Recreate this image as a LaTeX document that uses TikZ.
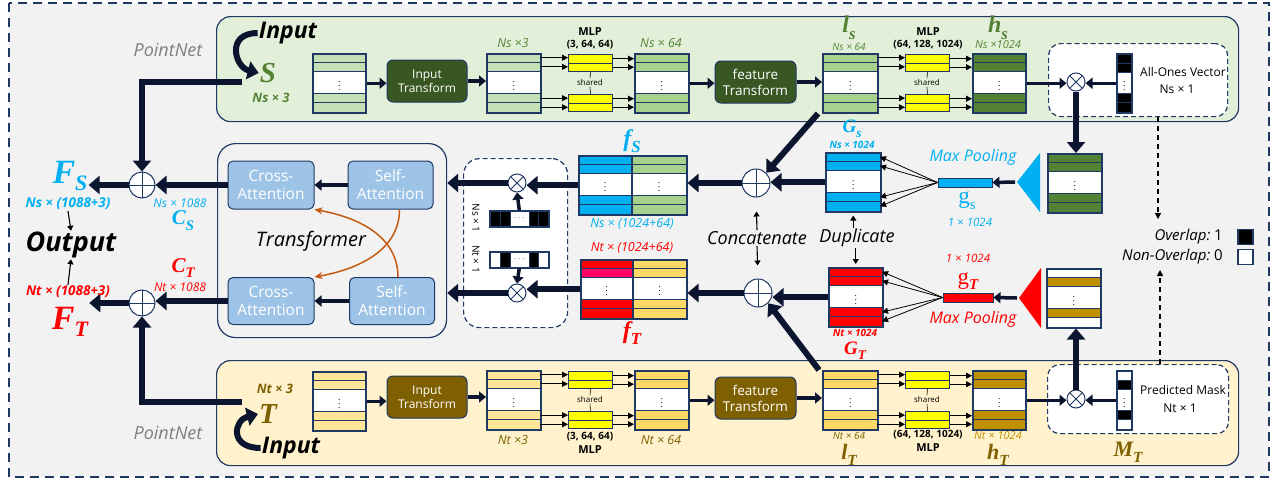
\documentclass[tikz,border=0pt]{standalone}
\usepackage{fontspec}
\usepackage{graphicx}
\setmainfont{Open Sans}
\newfontfamily\mserif{Liberation Serif}
\usetikzlibrary{arrows.meta,calc}
\definecolor{navy}{HTML}{1F3864}
\definecolor{arrc}{HTML}{0B1530}
\definecolor{bgc}{HTML}{F2F2F2}
\definecolor{pgreen}{HTML}{E2F0D9}
\definecolor{pyellow}{HTML}{FFF2CC}
\definecolor{lgr}{HTML}{C5E0B4}
\definecolor{mgr}{HTML}{A9D18E}
\definecolor{dgr}{HTML}{548235}
\definecolor{boxg}{HTML}{385723}
\definecolor{ly}{HTML}{FFE699}
\definecolor{my}{HTML}{FFD966}
\definecolor{gold}{HTML}{BF9000}
\definecolor{brn}{HTML}{7F6000}
\definecolor{cyn}{HTML}{00B0F0}
\definecolor{rd}{HTML}{FF0000}
\definecolor{pnk}{HTML}{FF0066}
\definecolor{attn}{HTML}{9DC3E6}
\definecolor{orng}{HTML}{C55A11}
\definecolor{ylw}{HTML}{FFFF00}
\definecolor{gtxt}{HTML}{7F7F7F}

\newcommand{\fsz}[1]{\fontsize{#1}{#1}\selectfont}
\newcommand{\mlab}[2]{{\mserif\bfseries\itshape #1\raisebox{-0.28em}{\scalebox{0.7}{#2}}}}

\newcommand{\fstack}[8]{%
  \fill[white] (#2,#3) rectangle ({#2+#4},{#3+59});
  \draw[rowst,fill=#5] (#2,#3) rectangle ({#2+#4},{#3+9.4});
  \draw[rowst,fill=#6] (#2,{#3+9.4}) rectangle ({#2+#4},{#3+18.3});
  \draw[rowst,fill=#7] (#2,{#3+40.7}) rectangle ({#2+#4},{#3+49.6});
  \draw[rowst,fill=#8] (#2,{#3+49.6}) rectangle ({#2+#4},{#3+59});
  \node[stk,minimum width=#4,minimum height=59,anchor=north west] (#1) at (#2,#3) {};
  \node[dotn] (#1d) at (#1.center) {$\vdots$};
  \coordinate (#1e1) at ({#2+#4},{#3+4.7});
  \coordinate (#1e2) at ({#2+#4},{#3+13.85});
  \coordinate (#1e3) at ({#2+#4},{#3+45.15});
  \coordinate (#1e4) at ({#2+#4},{#3+54.3});
  \coordinate (#1w1) at (#2,{#3+4.7});
  \coordinate (#1w2) at (#2,{#3+13.85});
  \coordinate (#1w3) at (#2,{#3+45.15});
  \coordinate (#1w4) at (#2,{#3+54.3});
}
\newcommand{\dstack}[9]{%
  \fill[white] (#2,#3) rectangle ({#2+#4},{#3+59});
  \draw[rowst,fill=#5] (#2,#3) rectangle ({#2+#4/2},{#3+9.4});
  \draw[rowst,fill=#6] (#2,{#3+9.4}) rectangle ({#2+#4/2},{#3+18.3});
  \draw[rowst,fill=#7] (#2,{#3+40.7}) rectangle ({#2+#4/2},{#3+49.6});
  \draw[rowst,fill=#8] (#2,{#3+49.6}) rectangle ({#2+#4/2},{#3+59});
  \draw[rowst,fill=#9] ({#2+#4/2},#3) rectangle ({#2+#4},{#3+9.4});
  \draw[rowst,fill=#9] ({#2+#4/2},{#3+9.4}) rectangle ({#2+#4},{#3+18.3});
  \draw[rowst,fill=#9] ({#2+#4/2},{#3+40.7}) rectangle ({#2+#4},{#3+49.6});
  \draw[rowst,fill=#9] ({#2+#4/2},{#3+49.6}) rectangle ({#2+#4},{#3+59});
  \draw[stk] ({#2+#4/2},#3) -- ({#2+#4/2},{#3+59});
  \node[stk,minimum width=#4,minimum height=59,anchor=north west] (#1) at (#2,#3) {};
  \node[dotn] (#1dl) at ({#2+#4/4},{#3+29.5}) {$\vdots$};
  \node[dotn] (#1dr) at ({#2+3*#4/4},{#3+29.5}) {$\vdots$};
}
\newcommand{\vvec}[7]{%
  \fill[white] (#2,#3) rectangle ({#2+15},{#3+59});
  \draw[rowst,fill=#4] (#2,#3) rectangle ({#2+15},{#3+10});
  \draw[rowst,fill=#5] (#2,{#3+10}) rectangle ({#2+15},{#3+19});
  \draw[rowst,fill=#6] (#2,{#3+40}) rectangle ({#2+15},{#3+49});
  \draw[rowst,fill=#7] (#2,{#3+49}) rectangle ({#2+15},{#3+59});
  \node[stk,minimum width=15,minimum height=59,anchor=north west] (#1) at (#2,#3) {};
  \node[dotn] (#1d) at (#1.center) {$\vdots$};
}
\newcommand{\hvec}[7]{%
  \fill[white] (#2,#3) rectangle ({#2+59},{#3+16});
  \draw[rowst,fill=#4] (#2,#3) rectangle ({#2+11},{#3+16});
  \draw[rowst,fill=#5] ({#2+11},#3) rectangle ({#2+21},{#3+16});
  \draw[rowst,fill=#6] ({#2+40},#3) rectangle ({#2+49},{#3+16});
  \draw[rowst,fill=#7] ({#2+49},#3) rectangle ({#2+59},{#3+16});
  \node[stk,minimum width=59,minimum height=16,anchor=north west] (#1) at (#2,#3) {};
  \node[dotn] (#1d) at (#1.center) {$\cdots$};
}
\newcommand{\mlpset}[4]{%
  \node[mbar,anchor=north west] (#1b1) at (#2,#3) {};
  \node[mbar,anchor=north west] (#1b2) at (#2,{#3+8.5}) {};
  \node[mbar,anchor=north west] (#1b3) at (#2,#4) {};
  \node[mbar,anchor=north west] (#1b4) at (#2,{#4+8.5}) {};
  \node[font=\fsz{8}, inner sep=1pt] (#1sh) at ({#2+22},{(#3+17+#4)/2}) {shared};
  \draw[line width=0.6pt] (#1b2.south) -- (#1sh.north) (#1sh.south) -- (#1b3.north);
}
\newcommand{\mlpwire}[3]{%
  \foreach \i in {1,2,3,4}{%
    \draw[thinarr] (#1e\i) -- (#1e\i -| #2b\i.west);
    \draw[thinarr] (#2b\i.east) -- (#2b\i.east -| #3w\i);
  }%
}

\begin{document}
\begin{tikzpicture}[x=1pt,y=-1pt,
  stk/.style={draw=navy, line width=1.5pt, inner sep=0pt},
  rowst/.style={draw=navy, line width=0.9pt},
  dotn/.style={font=\fsz{9}, inner sep=0pt},
  mbar/.style={draw=navy, fill=ylw, line width=0.9pt, minimum width=44, minimum height=8.5, inner sep=0pt},
  panel/.style={draw=navy, line width=1.2pt, rounded corners=14pt, inner sep=0pt},
  dbox/.style={draw=navy, fill=white, line width=1.2pt, dash pattern=on 5pt off 3pt, rounded corners=12pt, inner sep=0pt},
  tbox/.style={rounded corners=6pt, draw=navy, line width=1pt, text=white, align=center, font=\fsz{12}, minimum width=80, minimum height=42, inner sep=1pt},
  abox/.style={rounded corners=5pt, draw=navy, line width=1pt, fill=attn, text=white, align=center, font=\fontsize{15.5}{18}\selectfont, minimum width=86, minimum height=48, inner sep=1pt},
  fat/.style={draw=arrc, line width=6pt, -{Triangle[length=11pt,width=18pt]}},
  midarr/.style={draw=arrc, line width=3.5pt, -{Triangle[length=7pt,width=11pt]}},
  thinarr/.style={draw=black, line width=0.8pt, -{Triangle[length=6pt,width=6pt]}},
  smallarr/.style={draw=black, line width=1.1pt, -{Triangle[length=5pt,width=6pt]}},
  dasharr/.style={draw=black, line width=1.2pt, dash pattern=on 5pt off 4pt, -{Triangle[length=6pt,width=6pt]}},
  oarr/.style={draw=orng, line width=1.5pt, -{Stealth[length=8pt,width=7pt]}},
  opl/.style={circle, draw=navy, line width=1pt, fill=white, minimum size=26, inner sep=0pt,
    path picture={\draw[navy, line width=1pt] (path picture bounding box.north) -- (path picture bounding box.south) (path picture bounding box.west) -- (path picture bounding box.east);}},
  otm/.style={circle, draw=navy, line width=1pt, fill=white, minimum size=18, inner sep=0pt,
    path picture={\draw[navy, line width=1pt] (path picture bounding box.north west) -- (path picture bounding box.south east) (path picture bounding box.south west) -- (path picture bounding box.north east);}},
  lb/.style={inner sep=1pt}
]
\useasboundingbox (0,0) rectangle (1276,485);
\fill[white] (0,0) rectangle (1276,485);
\fill[bgc] (9,3) rectangle (1269,477);
\draw[navy, line width=2pt, dash pattern=on 9pt off 6pt] (9,3) rectangle (1269,477);

% panels
\node[panel, fill=pgreen, minimum width=1022, minimum height=105, anchor=north west] (pS) at (216,16) {};
\node[panel, fill=pyellow, minimum width=1022, minimum height=105, anchor=north west] (pT) at (216,360) {};
\node[panel, fill=bgc, rounded corners=18pt, minimum width=229, minimum height=194, anchor=north west] (tfm) at (217,143) {};
\node[dbox, minimum width=179, minimum height=73, anchor=north west] (dbS) at (1048,43) {};
\node[dbox, minimum width=181, minimum height=69, anchor=north west] (dbT) at (1047,364) {};
\node[dbox, rounded corners=16pt, minimum width=104, minimum height=169, anchor=north west] (dbM) at (463,158) {};

% ---------- top PointNet (source)
\node[lb, font=\fsz{18}\itshape, text=gtxt] (pnS) at (168,50) {PointNet};
\node[lb, font=\fsz{23}\bfseries\itshape] (inS) at (288,33) {Input};
\node[lb, text=dgr] (S) at (268,73) {\mserif\bfseries\itshape\fsz{29}S};
\node[lb, font=\fsz{13}\bfseries\itshape, text=dgr] (nsS) at (271,98) {Ns × 3};
\draw[fat] (inS.west) .. controls +(-32,0) and +(-24,-6) .. (S.west);

\fstack{sA}{312}{53}{53}{lgr}{lgr}{lgr}{lgr}
\node[tbox, fill=boxg] (itS) at (427,81) {Input\\[1pt]Transform};
\fstack{sB}{486}{53}{54}{lgr}{lgr}{lgr}{lgr}
\mlpset{mA}{568}{54}{94}
\fstack{sC}{634}{53}{54}{mgr}{mgr}{mgr}{mgr}
\node[tbox, fill=boxg, minimum width=81, font=\fontsize{13.5}{16}\selectfont] (ftS) at (755.5,82) {feature\\Transform};
\fstack{sD}{822}{53}{55}{mgr}{mgr}{mgr}{mgr}
\mlpset{mB}{905}{54}{94}
\fstack{sE}{972}{53}{53}{dgr}{dgr}{dgr}{dgr}
\node[otm] (otA) at (1076,82) {};
\vvec{vA}{1116}{53}{black}{black}{black}{black}
\node[lb, font=\fsz{12}] (aov) at (1183,72) {All-Ones Vector};
\node[lb, font=\fsz{12}] (aon) at (1177,89) {Ns × 1};

\node[lb, font=\fsz{12.5}\itshape, text=dgr] (lbB) at (513,43) {Ns ×3};
\node[lb, font=\fsz{11}\bfseries] (mlpA) at (590,32) {MLP};
\node[lb, font=\fsz{10}\bfseries] (mlpAp) at (590,45) {(3, 64, 64)};
\node[lb, font=\fsz{12.5}\itshape, text=dgr] (lbC) at (661,43) {Ns × 64};
\node[lb, text=dgr, font=\fsz{24}] (lsym) at (849,28) {\mlab{l}{s}};
\node[lb, font=\fsz{10}\itshape, text=dgr] (lbD) at (849,47) {Ns × 64};
\node[lb, font=\fsz{11}\bfseries] (mlpB) at (928,32) {MLP};
\node[lb, font=\fsz{10}\bfseries] (mlpBp) at (928,45) {(64, 128, 1024)};
\node[lb, text=dgr, font=\fsz{24}] (hsym) at (998,28) {\mlab{h}{s}};
\node[lb, font=\fsz{11}\itshape, text=dgr] (lbE) at (998,45) {Ns ×1024};

\draw[midarr] (sA.east) -- (sA.east -| itS.west);
\draw[midarr] (itS.east) -- (itS.east -| sB.west);
\mlpwire{sB}{mA}{sC}
\draw[midarr] (sC.east) -- (sC.east -| ftS.west);
\draw[midarr] (ftS.east) -- (ftS.east -| sD.west);
\mlpwire{sD}{mB}{sE}
\draw[midarr] (sE.east) -- (sE.east -| otA.west);
\draw[midarr] (vA.west) -- (vA.west -| otA.east);

% ---------- bottom PointNet (target)
\node[lb, font=\fsz{18}\itshape, text=gtxt] (pnT) at (168,433) {PointNet};
\node[lb, font=\fsz{23}\bfseries\itshape] (inT) at (291,448) {Input};
\node[lb, text=brn] (T) at (268,414) {\mserif\bfseries\itshape\fsz{29}T};
\node[lb, font=\fsz{13}\bfseries\itshape, text=brn] (ntT) at (275,389) {Nt × 3};
\draw[fat] (inT.west) .. controls +(-32,0) and +(-24,6) .. (T.west);

\fstack{tA}{312}{371}{53}{ly}{ly}{ly}{ly}
\node[tbox, fill=brn] (itT) at (427,397) {Input\\[1pt]Transform};
\fstack{tB}{486}{370}{54}{ly}{ly}{ly}{ly}
\mlpset{mC}{568}{371}{411}
\fstack{tC}{634}{370}{54}{my}{my}{my}{my}
\node[tbox, fill=brn, minimum width=81, font=\fontsize{13.5}{16}\selectfont] (ftT) at (755.5,398) {feature\\Transform};
\fstack{tD}{822}{370}{55}{my}{my}{my}{my}
\mlpset{mD}{905}{371}{411}
\fstack{tE}{972}{370}{53}{gold}{gold}{gold}{gold}
\node[otm] (otB) at (1076,399) {};
\vvec{vB}{1116}{370}{white}{black}{black}{white}
\node[lb, font=\fsz{12}] (pmk) at (1183,390) {Predicted Mask};
\node[lb, font=\fsz{12}] (pmn) at (1180,408) {Nt × 1};

\node[lb, font=\fsz{12.5}\itshape, text=brn] (lbtB) at (513,440) {Nt ×3};
\node[lb, font=\fsz{10}\bfseries] (mlpCp) at (590,437) {(3, 64, 64)};
\node[lb, font=\fsz{11}\bfseries] (mlpC) at (590,450) {MLP};
\node[lb, font=\fsz{12.5}\itshape, text=brn] (lbtC) at (661,440) {Nt × 64};
\node[lb, font=\fsz{10}\itshape, text=brn] (lbtD) at (849,436) {Nt × 64};
\node[lb, text=brn, font=\fsz{22}] (lTsym) at (849,455) {\mlab{l}{T}};
\node[lb, font=\fsz{10}\bfseries] (mlpDp) at (928,435) {(64, 128, 1024)};
\node[lb, font=\fsz{11}\bfseries] (mlpD) at (928,448) {MLP};
\node[lb, font=\fsz{11}\itshape, text=gold] (lbtE) at (998,436) {Nt × 1024};
\node[lb, text=brn, font=\fsz{22}] (hTsym) at (998,455) {\mlab{h}{T}};
\node[lb, text=brn, font=\fsz{22}] (MTsym) at (1128,452) {\mlab{M}{T}};

\draw[midarr] (tA.east) -- (tA.east -| itT.west);
\draw[midarr] (itT.east) -- (itT.east -| tB.west);
\mlpwire{tB}{mC}{tC}
\draw[midarr] (tC.east) -- (tC.east -| ftT.west);
\draw[midarr] (ftT.east) -- (ftT.east -| tD.west);
\mlpwire{tD}{mD}{tE}
\draw[midarr] (tE.east) -- (tE.east -| otB.west);
\draw[midarr] (vB.west) -- (vB.west -| otB.east);

% ---------- pooling (source)
\fstack{pA}{1047}{153}{54}{dgr}{dgr}{dgr}{dgr}
\fill[cyn] (1017,182) -- (1040,153) -- (1040,212) -- cycle;
\coordinate (trS) at (1015,182);
\node[draw=navy, line width=0.9pt, fill=cyn, minimum width=54, minimum height=9, inner sep=0pt] (gS) at (965,182.5) {};
\node[lb, font=\fsz{16}\itshape, text=cyn] (mpS) at (973,157) {Max Pooling};
\node[lb, text=cyn] (gSl) at (967,201) {\mserif\fsz{23}g\raisebox{-0.25em}{\fsz{15}s}};
\node[lb, font=\fsz{11.5}\itshape, text=cyn] (gSn) at (970,222) {1 × 1024};
\fstack{GS}{825}{152}{55}{cyn}{cyn}{cyn}{cyn}
\node[lb, text=cyn, font=\fsz{19}] (GSl) at (852,129) {\mlab{G}{s}};
\node[lb, font=\fsz{10}\bfseries\itshape, text=cyn] (GSn) at (852,145) {Ns × 1024};
\draw[fat] (otA.south) -- (otA.south |- pA.north);
\draw[midarr] (trS) -- (gS.east);
\foreach \i in {1,2,3,4}{\draw[thinarr] (gS.west) -- (GSe\i);}

% ---------- pooling (target)
\fstack{pB}{1046}{268}{54}{white}{gold}{gold}{white}
\fill[rd] (1019,298) -- (1041,268) -- (1041,328) -- cycle;
\coordinate (trT) at (1017,298);
\node[draw=navy, line width=0.9pt, fill=rd, minimum width=50, minimum height=9, inner sep=0pt] (gT) at (968,297.5) {};
\node[lb, font=\fsz{11.5}\itshape, text=rd] (gTn) at (968,258) {1 × 1024};
\node[lb, text=rd] (gTl) at (968,281) {\mserif\fsz{23}g\raisebox{-0.25em}{\fsz{15}\bfseries\itshape T}};
\node[lb, font=\fsz{16}\itshape, text=rd] (mpT) at (973,319) {Max Pooling};
\fstack{GT}{828}{267}{54}{rd}{rd}{rd}{rd}
\node[lb, font=\fsz{10}\bfseries\itshape, text=rd] (GTn) at (855,333) {Nt × 1024};
\node[lb, text=rd, font=\fsz{19}] (GTl) at (855,351) {\mlab{G}{T}};
\draw[fat] (otB.north) -- (otB.north |- pB.south);
\draw[midarr] (trT) -- (gT.east);
\foreach \i in {1,2,3,4}{\draw[thinarr] (gT.west) -- (GTe\i);}

% ---------- concatenation
\node[opl, minimum size=28] (opM1) at (756,183) {};
\node[opl, minimum size=28] (opM2) at (758,293) {};
\dstack{fS}{578}{155}{108}{cyn}{cyn}{cyn}{cyn}{mgr}
\dstack{fT}{580}{259}{106}{rd}{pnk}{rd}{rd}{my}
\node[lb, text=cyn, font=\fsz{24}] (fSl) at (632,141) {\mlab{f}{S}};
\node[lb, font=\fsz{12.5}\itshape, text=cyn] (fSn) at (632,224) {Ns × (1024+64)};
\node[lb, font=\fsz{12.5}\itshape, text=rd] (fTn) at (632,248) {Nt × (1024+64)};
\node[lb, text=rd, font=\fsz{24}] (fTl) at (632,333) {\mlab{f}{T}};
\node[lb, font=\fsz{18}\itshape] (conc) at (757,238) {Concatenate};
\node[lb, font=\fsz{18}\itshape] (dup) at (857,238) {Duplicate};
\draw[smallarr, shorten >=14pt] (conc.north) -- (opM1.south);
\draw[smallarr, shorten >=13pt] (conc.south) -- (opM2.north);
\draw[smallarr, shorten >=3pt] (dup.north -| GS.south) -- (GS.south);
\draw[smallarr, shorten >=3pt] (dup.south -| GT.north) -- (GT.north);
\draw[fat] (GS.west) -- (GS.west -| opM1.east);
\draw[fat] (opM1.west) -- (opM1.west -| fS.east);
\draw[fat] (GT.west) -- (GT.west -| opM2.east);
\draw[fat] (opM2.west) -- (opM2.west -| fT.east);
\draw[fat] ([xshift=-4pt]sD.south west) -- (opM1.north east);
\draw[fat] ([xshift=-3pt]tD.north west) -- (opM2.south east);

% ---------- mask multiplication
\node[otm] (otS) at (517,183) {};
\node[otm] (otT) at (517,293) {};
\hvec{hS}{489}{210}{black}{black}{black}{black}
\hvec{hT}{489}{251}{white}{black}{black}{white}
\node[lb, font=\fsz{10}, rotate=-90] (hSn) at (476,218) {Ns × 1};
\node[lb, font=\fsz{10}, rotate=-90] (hTn) at (476,259) {Nt × 1};
\draw[midarr] (hS.north) -- (otS.south);
\draw[midarr] (hT.south) -- (otT.north);
\draw[fat] (fS.west) -- (fS.west -| otS.east);
\draw[fat] (fT.west) -- (fT.west -| otT.east);
\draw[fat] (otS.west) -- (otS.west -| tfm.east);
\draw[fat] (otT.west) -- (otT.west -| tfm.east);

% ---------- transformer
\node[abox] (caT) at (271,185) {Cross-\\Attention};
\node[abox, minimum width=85] (saT) at (390.5,185) {Self-\\Attention};
\node[abox, minimum height=47] (caB) at (271,301) {Cross-\\Attention};
\node[abox, minimum width=85, minimum height=47] (saB) at (392,301) {Self-\\Attention};
\node[lb, font=\fsz{20}\itshape] (tfl) at (311,241) {Transformer};
\draw[midarr] (saT.west) -- (caT.east);
\draw[midarr] (saB.west) -- (caB.east);
\draw[oarr] ([xshift=9pt]saT.south) .. controls +(0,40) and +(45,-8) .. (caB.north east);
\draw[oarr] ([xshift=6pt]saB.north) .. controls +(0,-40) and +(45,8) .. (caT.south east);

% ---------- outputs
\node[opl] (opL1) at (142,185) {};
\node[opl] (opL2) at (142,303) {};
\coordinate (sL) at (242,82);
\coordinate (tL) at (242,402);
\draw[fat] (sL) -| (opL1.north);
\draw[fat] (tL) -| (opL2.south);
\draw[fat] (caT.west) -- (caT.west -| opL1.east);
\draw[fat] (caB.west) -- (caB.west -| opL2.east);
\node[lb, text=cyn] (FS) at (70,176) {\mserif\bfseries\itshape\fsz{34}F\raisebox{-0.2em}{\fsz{22}S}};
\node[lb, text=rd] (FT) at (70,322) {\mserif\bfseries\itshape\fsz{34}F\raisebox{-0.2em}{\fsz{22}T}};
\draw[fat] (opL1.west) -- (opL1.west -| FS.east);
\draw[fat] (opL2.west) -- (opL2.west -| FT.east);
\node[lb, font=\fsz{13.5}\bfseries\itshape, text=cyn] (FSn) at (68,204) {Ns × (1088+3)};
\node[lb, font=\fsz{27}\bfseries\itshape] (outp) at (71,245) {Output};
\node[lb, font=\fsz{13.5}\bfseries\itshape, text=rd] (FTn) at (68,292) {Nt × (1088+3)};
\draw[smallarr] (FSn.south) -- (outp.north);
\draw[smallarr] (FTn.north) -- (outp.south);
\node[lb, font=\fsz{12}\itshape, text=cyn] (CSn) at (180,203) {Ns × 1088};
\node[lb, text=cyn, font=\fsz{21}] (CSl) at (183,221) {\mlab{C}{S}};
\node[lb, text=rd, font=\fsz{21}] (CTl) at (183,268) {\mlab{C}{T}};
\node[lb, font=\fsz{12}\itshape, text=rd] (CTn) at (180,287) {Nt × 1088};

% ---------- legend
\node[lb, anchor=east, font=\fsz{15}] (ovl) at (1224,237) {\itshape Overlap:\upshape\ 1};
\node[lb, anchor=east, font=\fsz{15}] (novl) at (1224,257) {\itshape Non-Overlap:\upshape\ 0};
\node[draw=navy, line width=1.2pt, fill=black, minimum size=15, inner sep=0pt] (sqB) at (1245.5,237) {};
\node[draw=navy, line width=1.2pt, fill=white, minimum size=15, inner sep=0pt] (sqW) at (1245.5,257) {};
\coordinate (legTop) at (1158,219);
\coordinate (legBot) at (1160,270);
\draw[dasharr] (dbS.south -| legTop) -- (legTop);
\draw[dasharr] (dbT.north -| legBot) -- (legBot);
\end{tikzpicture}
\end{document}
